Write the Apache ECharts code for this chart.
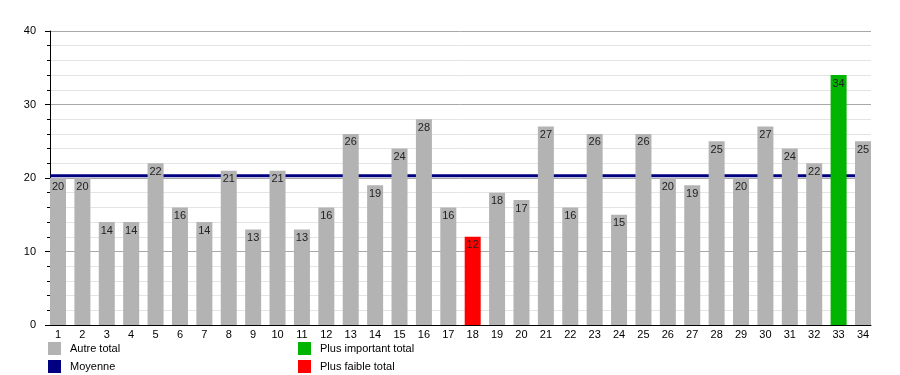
<!DOCTYPE html>
<html>
<head>
<meta charset="utf-8">
<script src="https://cdn.jsdelivr.net/npm/echarts@6/dist/echarts.min.js"></script>
<style>
  html, body { margin: 0; padding: 0; background: #fff; }
  #chart { width: 900px; height: 375px; }
</style>
</head>
<body>
<div id="chart"></div>
<script>
const categories = ['1','2','3','4','5','6','7','8','9','10','11','12','13','14','15','16','17',
  '18','19','20','21','22','23','24','25','26','27','28','29','30','31','32','33','34'];
const totals = [20, 20, 14, 14, 22, 16, 14, 21, 13, 21, 13, 16, 26, 19, 24, 28, 16,
  12, 18, 17, 27, 16, 26, 15, 26, 20, 19, 25, 20, 27, 24, 22, 34, 25];
const highestIndex = 32;   // bar 33
const lowestIndex = 17;    // bar 18
const average = 20.3;

const FONT = 'Liberation Sans, Arial, sans-serif';

const otherData = totals.map((v, i) => (i === highestIndex || i === lowestIndex) ? '-' : v);
const highData = totals.map((v, i) => i === highestIndex ? v : '-');
const lowData = totals.map((v, i) => i === lowestIndex ? v : '-');

const barLabel = {
  show: true,
  position: 'insideTop',
  distance: 3,
  color: '#222',
  fontSize: 11,
  fontFamily: FONT
};

const legendBase = {
  orient: 'vertical', top: 342, padding: 0, itemWidth: 13, itemHeight: 13, itemGap: 5,
  icon: 'rect', selectedMode: false,
  textStyle: { color: '#000', fontSize: 11, fontFamily: FONT, padding: [0, 0, 0, 4] }
};

const myChart = echarts.init(document.getElementById('chart'));
const option = {
  animation: false,
  textStyle: { fontFamily: FONT },
  grid: [
    { left: 50, top: 31, width: 821, height: 294 },
    { left: 58, top: 31, width: 805, height: 294 }
  ],
  xAxis: [
    {
      gridIndex: 0, type: 'value', min: 0, max: 1,
      axisLine: { show: true, lineStyle: { color: '#000', width: 1 } },
      axisTick: { show: false }, axisLabel: { show: false },
      splitLine: { show: false }
    },
    {
      gridIndex: 1, type: 'category', boundaryGap: false, data: categories,
      axisLine: { show: false }, axisTick: { show: false },
      axisLabel: { color: '#000', fontSize: 11, fontFamily: FONT, margin: 4, interval: 0 }
    }
  ],
  yAxis: [
    {
      gridIndex: 0, type: 'value', min: 0, max: 40, interval: 10,
      axisLine: { show: true, lineStyle: { color: '#000', width: 1 } },
      axisTick: { show: true, length: 5, lineStyle: { color: '#000' } },
      minorTick: { show: true, splitNumber: 5, length: 3, lineStyle: { color: '#000' } },
      axisLabel: { color: '#000', fontSize: 11, fontFamily: FONT, margin: 14 },
      splitLine: { show: true, lineStyle: { color: '#a8a8a8', width: 1 } },
      minorSplitLine: { show: true, lineStyle: { color: '#e4e4e4', width: 1 } }
    },
    {
      gridIndex: 1, type: 'value', min: 0, max: 40, show: false
    }
  ],
  legend: [
    Object.assign({}, legendBase, { left: 48, data: ['Autre total', 'Moyenne'] }),
    Object.assign({}, legendBase, { left: 298, data: ['Plus important total', 'Plus faible total'] })
  ],
  series: [
    {
      name: 'Moyenne', type: 'line', xAxisIndex: 0, yAxisIndex: 0,
      data: [[0, average], [1, average]],
      symbol: 'none', z: 1, color: '#000080',
      itemStyle: { color: '#000080' },
      lineStyle: { color: '#000080', width: 3 }
    },
    {
      name: 'Autre total', type: 'bar', xAxisIndex: 1, yAxisIndex: 1, stack: 'total',
      data: otherData, barWidth: 16, z: 3,
      itemStyle: { color: '#b3b3b3' }, label: barLabel
    },
    {
      name: 'Plus important total', type: 'bar', xAxisIndex: 1, yAxisIndex: 1, stack: 'total',
      data: highData, barWidth: 16, z: 3,
      itemStyle: { color: '#00b400' }, label: barLabel
    },
    {
      name: 'Plus faible total', type: 'bar', xAxisIndex: 1, yAxisIndex: 1, stack: 'total',
      data: lowData, barWidth: 16, z: 3,
      itemStyle: { color: '#ff0000' }, label: barLabel
    }
  ]
};
myChart.setOption(option);
</script>
</body>
</html>
